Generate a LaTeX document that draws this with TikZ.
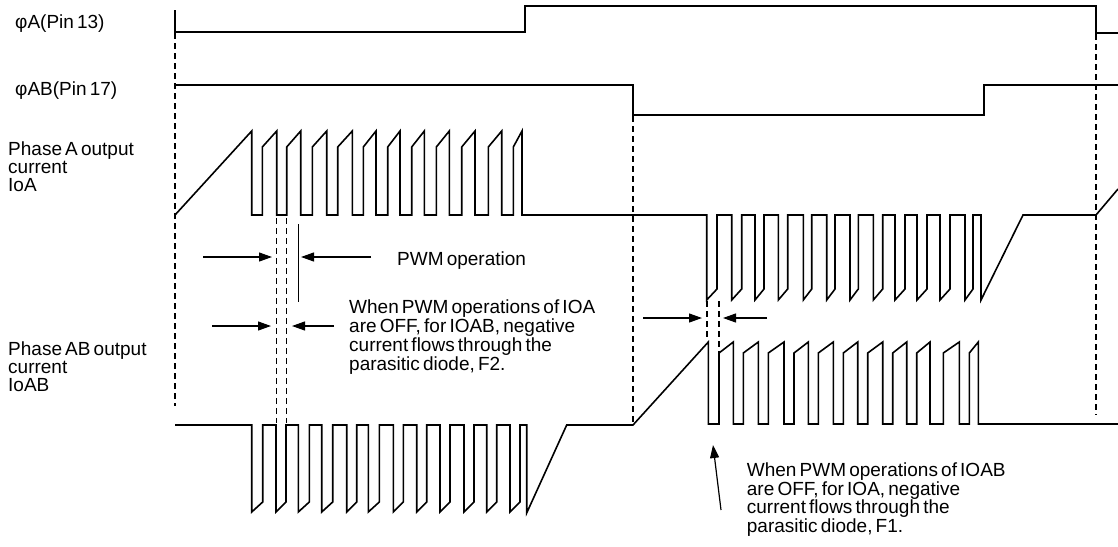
\documentclass[tikz,border=0pt]{standalone}
\usepackage{fontspec}
\setmainfont[WordSpace=0.6]{Liberation Sans}
\usetikzlibrary{arrows.meta}
\tikzset{x=1pt, y=-1pt,
    wave/.style={
        line width=1.6pt,
        line join=miter},
    guide/.style={
        line width=1.3pt,
        dash pattern=on 6pt off 4pt},
    pointer/.style={
        line width=1.2pt,
        -{Triangle[length=13pt,width=9pt]}},
    every node/.style={
        font=\fontsize{19}{17.6}\selectfont,
        inner sep=0pt},
    signame/.style={anchor=base west},
    note/.style={anchor=north west,align=left}}

\begin{document}
\begin{tikzpicture}
        \useasboundingbox (0,0) rectangle (1118,546);

        \node[signame] (phiA) at (15,28) {φA(Pin 13)};
        \node[signame] (phiAB) at (15,95) {φAB(Pin 17)};
        \node[note] (ioA) at (8,142) {Phase A output\\current\\IoA};
        \node[note] (ioAB) at (8,342) {Phase AB output\\current\\IoAB};

        \draw[wave] (175,10) -- (175,32) -- (525,32) -- (525,6) -- (1096,6) -- (1096,33) -- (1118,33);
        \draw[wave] (175,85) -- (633,85) -- (633,115) -- (984,115) -- (984,85) -- (1118,85);

        \draw[wave] (175,215) -- (251.7,131)
            \foreach \xd/\xu/\xn in {251.7/262.3/276.7, 276.7/286.7/300.7, 300.7/312.3/326.7,
                326.7/337.7/352.3, 352.3/363.3/376, 376/387.7/400, 400/411.7/424.3,
                424.3/436.3/449.3, 449.3/461.7/475, 475/488.3/501.7, 501.7/513.3/522}
                { -- (\xd,215) -- (\xu,215) -- (\xu,147) -- (\xn,131) }
            -- (522,215) -- (706.7,215)
            \foreach \xd/\xu/\xn in {706.7/717/731.7, 731.7/741.7/755, 755/764/778.3,
                778.3/787.7/803.3, 803.3/811.7/826.7, 826.7/835/850, 850/858.3/873.3,
                873.3/882.7/895, 895/905/917, 917/927/940, 940/950/965, 965/973/981}
                { -- (\xd,300) -- (\xu,289) -- (\xu,215) -- (\xn,215) }
            -- (981,300) -- (1023,215) -- (1096,215) -- (1118,189);

        \draw[wave] (175,425) -- (251.7,425)
            \foreach \xd/\xu/\xn in {251.7/262.7/276, 276/286/298.3, 298.3/309.3/321.7,
                321.7/332.7/346.7, 346.7/356.7/368.3, 368.3/379.3/393.3, 393.3/403.3/416.7,
                416.7/426.7/440, 440/450/464, 464/474/486.7, 486.7/496.7/510, 510/520/526.7}
                { -- (\xd,512) -- (\xu,502) -- (\xu,425) -- (\xn,425) }
            -- (526.7,513) -- (566.7,425) -- (633,425) -- (708.3,342)
            \foreach \xd/\xu/\xn in {708.3/719/733.3, 733.3/743.3/758.3, 758.3/768.3/784,
                784/794/808.3, 808.3/818.3/833.3, 833.3/843.3/857.7, 857.7/867.7/882.7,
                882.7/892.7/906.7, 906.7/916.7/930, 930/943.3/959.3, 959.3/969.3/978.3}
                { -- (\xd,424) -- (\xu,424) -- (\xu,353) -- (\xn,342) }
            -- (978.3,424) -- (1118,424);

        \draw[guide] (175,33) -- (175,406);
        \draw[guide] (633,116) -- (633,422);
        \draw[guide] (1096,34) -- (1096,415);
        \draw[guide] (276.7,218) -- (276.7,423);
        \draw[guide] (286.7,218) -- (286.7,423);
        \draw[guide] (707,301) -- (707,338);
        \draw[guide] (719,301) -- (719,353);
        \draw[line width=1.4pt] (298.5,224) -- (298.5,302);

        \coordinate (pwmL) at (203,257);
        \coordinate (pwmLtip) at (272,257);
        \coordinate (pwmR) at (371,257);
        \coordinate (pwmRtip) at (301,257);
        \coordinate (offL) at (212,326);
        \coordinate (offLtip) at (271,326);
        \coordinate (offR) at (334,326);
        \coordinate (offRtip) at (292,326);
        \coordinate (diodeL) at (643,318);
        \coordinate (diodeLtip) at (702,318);
        \coordinate (diodeR) at (767,318);
        \coordinate (diodeRtip) at (723,318);
        \coordinate (upfoot) at (721,510);
        \coordinate (uptip) at (713,445);

        \draw[pointer] (pwmL) -- (pwmLtip);
        \draw[pointer] (pwmR) -- (pwmRtip);
        \draw[pointer] (offL) -- (offLtip);
        \draw[pointer] (offR) -- (offRtip);
        \draw[pointer] (diodeL) -- (diodeLtip);
        \draw[pointer] (diodeR) -- (diodeRtip);
        \draw[pointer] (upfoot) -- (uptip);

        \node[signame] (pwm) at (397,265) {PWM operation};
        \node[note] (noteF2) at (349,300) {When PWM operations of IOA\\are OFF, for IOAB, negative\\current flows through the\\parasitic diode, F2.};
        \node[note] (noteF1) at (746.7,462.5) {When PWM operations of IOAB\\are OFF, for IOA, negative\\current flows through the\\parasitic diode, F1.};
\end{tikzpicture}
\end{document}
